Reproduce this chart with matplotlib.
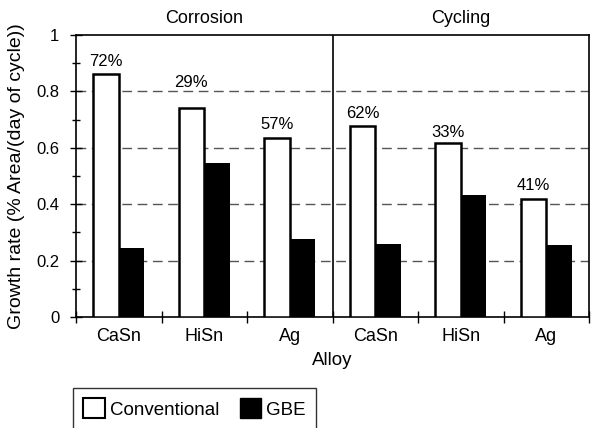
import numpy as np
import matplotlib
matplotlib.use("Agg")
import matplotlib.pyplot as plt
from matplotlib.patches import Patch
from matplotlib.ticker import MultipleLocator, FuncFormatter

plt.rcParams["font.family"] = ["Liberation Sans", "DejaVu Sans"]

# 数据
alloys = ["CaSn", "HiSn", "Ag", "CaSn", "HiSn", "Ag"]
panels = ["Corrosion", "Cycling"]
conventional = [0.862, 0.742, 0.636, 0.678, 0.616, 0.417]
gbe = [0.246, 0.546, 0.278, 0.259, 0.433, 0.255]
reduction = ["72%", "29%", "57%", "62%", "33%", "41%"]

fig = plt.figure(figsize=(5.96, 4.28), dpi=100)
ax = fig.add_axes([76 / 596, 111 / 428, 513 / 596, 282 / 428])

x = np.arange(len(alloys))
w = 0.30
ax.bar(x - w / 2, conventional, w, color="white", edgecolor="black", linewidth=1.8, zorder=3)
ax.bar(x + w / 2, gbe, w, color="black", edgecolor="black", linewidth=0, zorder=3)

# 百分比标注（HiSn 腐蚀那一个位置偏高）
label_off = [0.045, 0.09, 0.045, 0.045, 0.04, 0.05]
for i, txt in enumerate(reduction):
    ax.text(x[i] - w / 2, conventional[i] + label_off[i], txt,
            ha="center", va="center", fontsize=12)

ax.set_xlim(-0.5, len(alloys) - 0.5)
ax.set_ylim(0, 1)
ax.axvline(2.5, color="black", linewidth=1.2, zorder=4)

for y in [0.2, 0.4, 0.6, 0.8]:
    ax.axhline(y, color="#555555", linestyle=(0, (7, 4)), linewidth=1.0, zorder=1)

ax.yaxis.set_major_locator(MultipleLocator(0.2))
ax.yaxis.set_minor_locator(MultipleLocator(0.1))
ax.yaxis.set_major_formatter(FuncFormatter(lambda v, p: f"{v:g}"))
ax.tick_params(axis="y", which="major", direction="inout", length=8, width=1, labelsize=12, pad=8)
ax.tick_params(axis="y", which="minor", direction="inout", length=6, width=1)

ax.set_xticks(x)
ax.set_xticklabels(alloys)
ax.set_xticks(np.arange(len(alloys) + 1) - 0.5, minor=True)
ax.tick_params(axis="x", which="major", length=0, labelsize=13, pad=8)
ax.tick_params(axis="x", which="minor", direction="inout", length=8, width=1)

for s in ax.spines.values():
    s.set_linewidth(1.2)

ax.set_xlabel("Alloy", fontsize=13.5, labelpad=5)
ax.set_ylabel("Growth rate (% Area/(day of cycle))", fontsize=14, labelpad=8)

ax.text(1, 1.06, panels[0], ha="center", va="center", fontsize=13, transform=ax.get_xaxis_transform())
ax.text(4, 1.06, panels[1], ha="center", va="center", fontsize=13, transform=ax.get_xaxis_transform())

handles = [Patch(facecolor="white", edgecolor="black", linewidth=1.5, label="Conventional"),
           Patch(facecolor="black", edgecolor="black", label="GBE")]
leg = fig.legend(handles=handles, loc="upper left", bbox_to_anchor=(73 / 596, 1 - 388 / 428),
                 ncol=2, fontsize=13.5, frameon=True, fancybox=False, handlelength=1.15,
                 handleheight=1.25, handletextpad=0.25, columnspacing=1.1, borderpad=0.55,
                 borderaxespad=0)
leg.get_frame().set_edgecolor("black")
leg.get_frame().set_linewidth(1.0)

plt.savefig("out.png", dpi=100)
